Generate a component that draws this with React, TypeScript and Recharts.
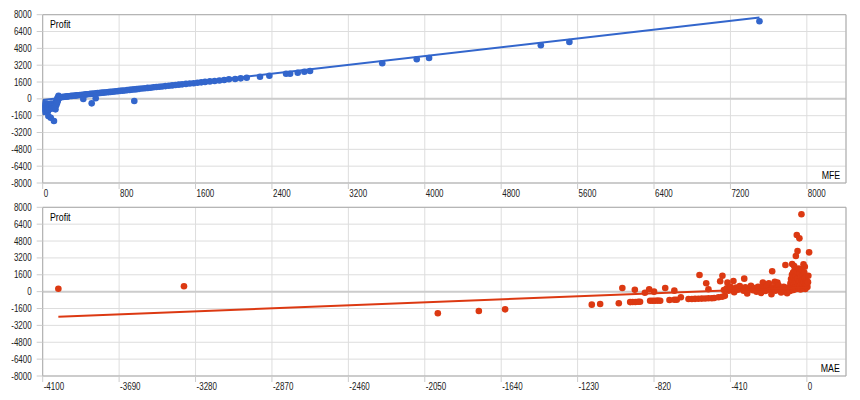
import React from 'react';
import { ScatterChart, Scatter, XAxis, YAxis, CartesianGrid, ReferenceLine } from 'recharts';

const FONT = '"Liberation Sans", Arial, sans-serif';
const SQUEEZE = 0.8; // the reference uses a narrow face
const BLUE = '#3366cc';
const RED = '#dc3912';

const PROFIT_TICKS = [-8000, -6400, -4800, -3200, -1600, 0, 1600, 3200, 4800, 6400, 8000];
const MFE_TICKS = [0, 800, 1600, 2400, 3200, 4000, 4800, 5600, 6400, 7200, 8000];
const MAE_TICKS = [-4100, -3690, -3280, -2870, -2460, -2050, -1640, -1230, -820, -410, 0];
const MFE_DOMAIN = [0, 8410];
const MAE_DOMAIN = [-4100, 210];

// trendline coefficients
const MFE_TREND = { slope: 1.046, intercept: -110 };
const MAE_TREND = { slope: 0.69, intercept: 400 };

// MFE vs profit
const MFE_X = [
  2, 4, 6, 8, 10, 12, 15, 18, 20, 22, 25, 28, 30, 33, 36, 40, 44, 48, 52, 56, 59, 62, 66, 70, 74, 78, 84, 88, 92, 96,
  100, 104, 108, 112, 118, 122, 126, 130, 134, 138, 142, 146, 150, 154, 158, 162, 166,
  175, 190, 205, 220, 240, 255, 270, 290, 305, 320, 340, 355, 370, 390, 405, 420, 440, 455, 470, 490, 505, 520, 540,
  560, 575, 595, 610, 630, 650, 670, 690, 710, 730, 750, 770, 790, 810, 835, 860, 885, 910, 935, 960, 985, 1010,
  1040, 1070, 1100, 1130, 1160, 1190, 1220, 1250, 1285, 1320, 1355, 1390, 1425, 1460, 1500, 1540, 1580, 1620, 1660,
  1700, 1750, 1800, 1850, 1900,
  425, 513, 555, 959, 1950, 2015, 2073, 2136, 2275, 2373, 2548, 2590, 2670, 2739, 2799, 3555, 3916, 4045, 5215, 5514, 7504,
];
const MFE_PROFIT = [
  -420, -760, -1100, -560, -900, -1250, -650, -980, -480, -1180, -820, -600, -1050, -720, -900, -450, -1000, -640, -880, -1150,
  -1630, -520, -820, -700, -960, -600, -1790, -450, -880, -620, -780, -500, -920, -680, -2105, -560, -800, -420, -1000, -300,
  -600, -150, -400, 50, -200, 150, 280,
  90, 150, 170, 190, 210, 235, 240, 265, 280, 300, 310, 335, 340, 365, 370, 395, 410, 430, 440, 460, 470, 490, 500,
  525, 540, 550, 570, 590, 600, 625, 640, 660, 680, 700, 720, 735, 760, 780, 800, 830, 850, 880, 900, 920,
  950, 980, 1010, 1040, 1060, 1100, 1120, 1150, 1180, 1210, 1250, 1280, 1310, 1350, 1380, 1420, 1460, 1490, 1530,
  1570, 1610, 1660, 1700, 1750, 1790,
  -20, -430, 60, -205, 1860, 1890, 1950, 2000, 2100, 2200, 2391, 2391, 2486, 2581, 2647, 3379, 3760, 3883, 5090, 5404, 7372,
];

// MAE vs profit
const MAE_X = [
  -4016, -3342,
  -1980, -1760, -1619, -1154, -1109, -1009,
  -990, -923, -869, -846, -820, -760, -711, -576, -540, -528, -465, -453, -426, -394, -336, -236, -204, -186, -172, -158,
  -948, -935, -920, -905, -895, -841, -827, -814, -800, -787, -737, -711, -698, -676, -635, -617, -600, -582, -564, -546,
  -528, -510, -497, -474, -455, -440,
  -445, -430, -420, -410, -400, -390, -380, -370, -360, -350, -340, -330, -320, -310, -300, -290, -280, -270, -262, -255,
  -245, -238, -230, -222, -214, -205, -198, -190, -182, -175, -168, -160, -152, -145, -138, -130, -124, -118, -112, -106,
  -100, -95, -90,
  -88, -85, -82, -80, -78, -76, -74, -72, -70, -68, -66, -64, -62, -60, -58, -56, -54, -52, -50, -48, -46, -44, -42, -40,
  -38, -36, -34, -32, -30, -28, -26, -24, -22, -20, -18, -16, -14, -12, -10, -8, -6, -4, -2,
  -115, -79, -68, -59, -50, -54, -40, -29, -11, 12, -18, 3, 6, 8,
];
const MAE_PROFIT = [
  280, 507,
  -2054, -1835, -1677, -1235, -1171, -1105,
  346, 187, -100, 221, 0, 346, 95, 1579, 790, 221, 980, 1513, 854, 1011, 1233, 854, 790, 1929, 946, 854,
  -990, -985, -975, -960, -953, -858, -858, -858, -850, -858, -792, -763, -763, -536, -697, -690, -685, -668, -660, -650,
  -631, -620, -602, -536, -480, -400,
  150, 320, 90, 450, 250, -60, 380, 180, 540, 300, 90, 420, -180, 250, 560, 140, 330, 0, 470, 200,
  -120, 380, 260, 60, 520, 310, 150, -250, 420, 230, 80, 350, 600, 190, -80, 300, 450, 120, 260, -150,
  380, 200, 60,
  800, 1200, 500, 1600, 300, 950, 1800, 150, 700, 1350, 2000, 400, 1100, 600, 1500, 250, 900, 1900, 450, 1250, 700, 2200, 350, 1000,
  1700, 550, 200, 1400, 800, 2100, 400, 1150, 650, 1550, 300, 900, 1800, 500, 1300, 250, 750, 450, 1000,
  2527, 2622, 2432, 3381, 3855, 5373, 5056, 7335, 2368, 3729, 2590, 450, 900, 1500,
];

const toPoints = (xs: number[], ys: number[]) => xs.map((x, i) => ({ x, y: ys[i] }));

const trendPoints = (xs: number[], t: { slope: number; intercept: number }) => {
  const lo = Math.min(...xs);
  const hi = Math.max(...xs);
  return [
    { x: lo, y: t.intercept + t.slope * lo },
    { x: hi, y: t.intercept + t.slope * hi },
  ];
};

const XTick = (props: any) => {
  const { x, y, payload } = props;
  return (
    <g transform={`translate(${x + 1},${y})`}>
      <text transform={`scale(${SQUEEZE},1)`} dy="0.71em" textAnchor="start" fontSize={10} fill="#222" fontFamily={FONT}>
        {payload.value}
      </text>
    </g>
  );
};

const YTick = (props: any) => {
  const { x, y, payload } = props;
  return (
    <g transform={`translate(${x},${y})`}>
      <text transform={`scale(${SQUEEZE},1)`} dy="0.355em" textAnchor="end" fontSize={10} fill="#222" fontFamily={FONT}>
        {payload.value}
      </text>
    </g>
  );
};

interface PanelProps {
  data: { x: number; y: number }[];
  trend: { x: number; y: number }[];
  color: string;
  domain: number[];
  ticks: number[];
  marginTop: number;
  xAxisHeight: number;
}

const Panel: React.FC<PanelProps> = ({ data, trend, color, domain, ticks, marginTop, xAxisHeight }) => (
  <ScatterChart width={844} height={192} margin={{ top: marginTop, right: 6, left: 4.7, bottom: 0 }}>
    <CartesianGrid stroke="#ddd" />
    <XAxis
      type="number"
      dataKey="x"
      domain={domain}
      ticks={ticks}
      interval={0}
      allowDataOverflow
      height={xAxisHeight}
      tickSize={6}
      tickMargin={1}
      tickLine={{ stroke: '#ccc' }}
      axisLine={{ stroke: '#aaa' }}
      tick={<XTick />}
    />
    <YAxis
      type="number"
      dataKey="y"
      domain={[-8000, 8000]}
      ticks={PROFIT_TICKS}
      interval={0}
      allowDataOverflow
      width={30}
      tickSize={6}
      tickMargin={5}
      tickLine={{ stroke: '#ccc' }}
      axisLine={{ stroke: '#aaa' }}
      tick={<YTick />}
    />
    <ReferenceLine y={0} stroke="#ccc" strokeWidth={2} />
    <ReferenceLine y={8000} stroke="#aaa" />
    <ReferenceLine x={domain[1]} stroke="#aaa" />
    <Scatter
      data={data}
      isAnimationActive={false}
      shape={(p: any) => <circle cx={p.cx} cy={p.cy} r={3.3} fill={color} />}
    />
    <Scatter
      data={trend}
      isAnimationActive={false}
      line={{ stroke: color, strokeWidth: 2 }}
      shape={() => <g />}
    />
  </ScatterChart>
);

const labelStyle: React.CSSProperties = {
  position: 'absolute',
  fontFamily: FONT,
  fontSize: 11,
  lineHeight: '11px',
  color: '#000',
  whiteSpace: 'nowrap',
  transform: `scaleX(${SQUEEZE})`,
};

export default function App() {
  const mfeData = toPoints(MFE_X, MFE_PROFIT);
  const maeData = toPoints(MAE_X, MAE_PROFIT);
  return (
    <div style={{ position: 'relative', width: 844, height: 384 }}>
      <Panel
        data={mfeData}
        trend={trendPoints(MFE_X, MFE_TREND)}
        color={BLUE}
        domain={MFE_DOMAIN}
        ticks={MFE_TICKS}
        marginTop={6.7}
        xAxisHeight={17}
      />
      <Panel
        data={maeData}
        trend={trendPoints(MAE_X, MAE_TREND)}
        color={RED}
        domain={MAE_DOMAIN}
        ticks={MAE_TICKS}
        marginTop={7.3}
        xAxisHeight={16}
      />
      <span style={{ ...labelStyle, left: 41.5, top: 10.5, transformOrigin: 'left center' }}>Profit</span>
      <span style={{ ...labelStyle, right: 12, top: 162, transformOrigin: 'right center' }}>MFE</span>
      <span style={{ ...labelStyle, left: 41.5, top: 203.5, transformOrigin: 'left center' }}>Profit</span>
      <span style={{ ...labelStyle, right: 12, top: 355, transformOrigin: 'right center' }}>MAE</span>
    </div>
  );
}
